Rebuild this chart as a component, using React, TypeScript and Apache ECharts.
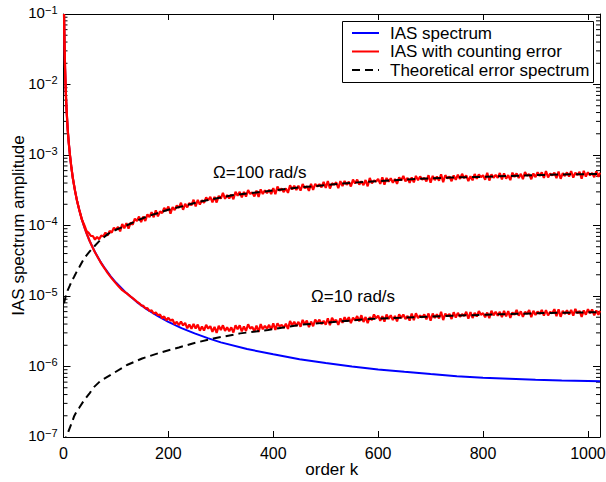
import React, { useEffect, useRef } from 'react';
import * as echarts from 'echarts';

const FONT = '"Liberation Sans", Arial, Helvetica, sans-serif';

// ---- IAS spectrum (blue) ----
const blueK = [1, 2, 3, 4, 5, 6, 8, 10, 12, 15, 18, 22, 26, 30, 35, 40, 45, 50, 60, 70, 80, 90, 100, 120, 140, 160, 180, 200, 225, 250, 275, 300, 350, 400, 450, 500, 550, 600, 650, 700, 750, 800, 850, 900, 950, 1000, 1023];
const blueV = [1.0e-1, 3.7e-2, 1.7e-2, 9.4e-3, 6.0e-3, 4.2e-3, 2.3e-3, 1.5e-3, 1.05e-3, 6.7e-4, 4.6e-4, 3.1e-4, 2.2e-4, 1.67e-4, 1.22e-4, 9.4e-5, 7.4e-5, 6.0e-5, 4.2e-5, 3.1e-5, 2.4e-5, 1.9e-5, 1.55e-5, 1.1e-5, 8.2e-6, 6.4e-6, 5.2e-6, 4.3e-6, 3.5e-6, 2.95e-6, 2.53e-6, 2.2e-6, 1.77e-6, 1.49e-6, 1.27e-6, 1.12e-6, 1.0e-6, 9.1e-7, 8.4e-7, 7.8e-7, 7.3e-7, 6.9e-7, 6.7e-7, 6.5e-7, 6.35e-7, 6.25e-7, 6.2e-7];

// ---- IAS with counting error (red) ----
// set A: k = 40, 48, 56, ... (last one at 1023); set B: k = 44, 52, 60, ... 1020
const redStartA = 40;
const redStartB = 44;
const redStep = 8;
const redOmega100A = [
  1.0e-4, 7.85e-5, 7.1e-5, 6.9e-5, 7.18e-5, 7.95e-5, 8.4e-5, 9.3e-5, 9.55e-5, 1.05e-4,
  1.08e-4, 1.1e-4, 1.25e-4, 1.34e-4, 1.34e-4, 1.44e-4, 1.54e-4, 1.64e-4, 1.58e-4, 1.77e-4,
  1.86e-4, 1.83e-4, 1.93e-4, 2.1e-4, 2.03e-4, 2.08e-4, 2.32e-4, 2.31e-4, 2.28e-4, 2.51e-4,
  2.55e-4, 2.54e-4, 2.63e-4, 2.9e-4, 2.7e-4, 2.74e-4, 3.01e-4, 3.0e-4, 3.0e-4, 3.18e-4,
  2.94e-4, 3.12e-4, 3.25e-4, 3.15e-4, 3.22e-4, 3.4e-4, 3.56e-4, 3.34e-4, 3.36e-4, 3.72e-4,
  3.66e-4, 3.68e-4, 3.87e-4, 3.61e-4, 3.9e-4, 3.88e-4, 3.85e-4, 4.17e-4, 4.26e-4, 3.97e-4,
  4.09e-4, 4.26e-4, 4.28e-4, 4.2e-4, 4.48e-4, 4.48e-4, 4.24e-4, 4.42e-4, 4.72e-4, 4.37e-4,
  4.57e-4, 4.82e-4, 4.73e-4, 4.68e-4, 4.58e-4, 4.83e-4, 5.05e-4, 4.73e-4, 4.8e-4, 5.06e-4,
  4.96e-4, 4.76e-4, 5.17e-4, 5.05e-4, 4.94e-4, 5.33e-4, 5.17e-4, 4.95e-4, 5.13e-4, 5.24e-4,
  5.41e-4, 5.14e-4, 5.01e-4, 5.37e-4, 5.28e-4, 5.15e-4, 5.61e-4, 5.3e-4, 5.22e-4, 5.55e-4,
  5.47e-4, 5.19e-4, 5.62e-4, 5.49e-4, 5.41e-4, 5.73e-4, 5.35e-4, 5.47e-4, 5.7e-4, 5.67e-4,
  5.9e-4, 5.45e-4, 5.63e-4, 5.81e-4, 5.55e-4, 5.67e-4, 5.91e-4, 5.6e-4, 5.78e-4, 5.95e-4,
  5.69e-4, 5.54e-4, 5.87e-4, 5.62e-4,
];
const redOmega100B = [
  8.35e-5, 7.1e-5, 6.3e-5, 6.37e-5, 7.05e-5, 7.2e-5, 7.95e-5, 8.7e-5, 8.25e-5, 9.15e-5,
  9.0e-5, 1.03e-4, 1.16e-4, 1.12e-4, 1.16e-4, 1.32e-4, 1.31e-4, 1.35e-4, 1.5e-4, 1.62e-4,
  1.47e-4, 1.65e-4, 1.78e-4, 1.67e-4, 1.81e-4, 1.93e-4, 1.87e-4, 1.98e-4, 2.1e-4, 2.28e-4,
  2.13e-4, 2.12e-4, 2.41e-4, 2.39e-4, 2.42e-4, 2.36e-4, 2.65e-4, 2.5e-4, 2.57e-4, 2.8e-4,
  2.58e-4, 2.55e-4, 2.8e-4, 2.87e-4, 2.79e-4, 2.78e-4, 3.12e-4, 2.98e-4, 2.9e-4, 3.25e-4,
  3.18e-4, 3.12e-4, 3.37e-4, 3.1e-4, 3.21e-4, 3.58e-4, 3.47e-4, 3.41e-4, 3.34e-4, 3.8e-4,
  3.38e-4, 3.62e-4, 3.78e-4, 3.58e-4, 3.93e-4, 3.81e-4, 3.73e-4, 3.6e-4, 3.97e-4, 4.21e-4,
  3.9e-4, 3.8e-4, 4.18e-4, 4.03e-4, 3.89e-4, 4.36e-4, 4.22e-4, 4.02e-4, 4.09e-4, 4.39e-4,
  4.47e-4, 4.22e-4, 4.06e-4, 4.41e-4, 4.33e-4, 4.12e-4, 4.66e-4, 4.25e-4, 4.46e-4, 4.58e-4,
  4.69e-4, 4.27e-4, 4.38e-4, 4.59e-4, 4.85e-4, 4.47e-4, 4.34e-4, 4.76e-4, 4.74e-4, 4.51e-4,
  4.63e-4, 4.39e-4, 4.87e-4, 4.73e-4, 4.55e-4, 5.08e-4, 4.53e-4, 4.86e-4, 5.03e-4, 4.74e-4,
  4.81e-4, 5.15e-4, 4.69e-4, 4.6e-4, 5.03e-4, 4.94e-4, 4.79e-4, 5.18e-4, 4.61e-4, 4.94e-4,
  5.16e-4, 4.85e-4, 4.91e-4,
];
const redOmega10A = [
  9.4e-5, 6.5e-5, 4.8e-5, 3.7e-5, 2.9e-5, 2.36e-5, 1.95e-5, 1.64e-5, 1.4e-5, 1.21e-5,
  1.1e-5, 9.8e-6, 8.8e-6, 7.95e-6, 7.27e-6, 6.75e-6, 6.26e-6, 5.84e-6, 5.46e-6, 5.13e-6,
  4.91e-6, 4.64e-6, 4.31e-6, 4.34e-6, 4.15e-6, 3.95e-6, 4.01e-6, 3.93e-6, 3.69e-6, 3.89e-6,
  3.74e-6, 3.65e-6, 3.77e-6, 3.84e-6, 3.61e-6, 3.59e-6, 3.84e-6, 3.84e-6, 3.71e-6, 3.97e-6,
  3.64e-6, 3.79e-6, 3.99e-6, 3.78e-6, 3.89e-6, 4.1e-6, 4.11e-6, 3.91e-6, 4.04e-6, 4.42e-6,
  4.32e-6, 4.3e-6, 4.59e-6, 4.47e-6, 4.34e-6, 4.62e-6, 4.62e-6, 4.45e-6, 4.81e-6, 4.92e-6,
  4.58e-6, 4.82e-6, 5.0e-6, 5.0e-6, 4.92e-6, 5.19e-6, 5.34e-6, 5.03e-6, 5.01e-6, 5.48e-6,
  5.27e-6, 5.18e-6, 5.46e-6, 5.34e-6, 5.21e-6, 5.48e-6, 5.46e-6, 5.22e-6, 5.64e-6, 5.68e-6,
  5.3e-6, 5.48e-6, 5.65e-6, 5.64e-6, 5.51e-6, 5.96e-6, 5.63e-6, 5.55e-6, 5.89e-6, 5.77e-6,
  5.52e-6, 5.98e-6, 5.9e-6, 5.77e-6, 6.12e-6, 5.7e-6, 5.83e-6, 6.18e-6, 5.98e-6, 5.95e-6,
  6.14e-6, 6.1e-6, 5.84e-6, 6.37e-6, 6.06e-6, 5.96e-6, 6.33e-6, 6.18e-6, 6.03e-6, 6.34e-6,
  6.3e-6, 5.96e-6, 6.51e-6, 6.46e-6, 6.18e-6, 6.26e-6, 6.33e-6, 6.57e-6, 6.13e-6, 6.25e-6,
  6.5e-6, 6.45e-6, 6.23e-6, 6.18e-6,
];
const redOmega10B = [
  7.75e-5, 5.55e-5, 4.17e-5, 3.26e-5, 2.61e-5, 2.13e-5, 1.78e-5, 1.51e-5, 1.3e-5, 1.15e-5,
  1.04e-5, 9.3e-6, 8.35e-6, 7.38e-6, 6.66e-6, 6.11e-6, 5.62e-6, 5.34e-6, 4.82e-6, 4.52e-6,
  4.46e-6, 3.98e-6, 3.85e-6, 3.83e-6, 3.48e-6, 3.42e-6, 3.46e-6, 3.22e-6, 3.24e-6, 3.45e-6,
  3.11e-6, 2.99e-6, 3.29e-6, 3.19e-6, 3.17e-6, 3.04e-6, 3.37e-6, 3.15e-6, 3.19e-6, 3.45e-6,
  3.15e-6, 3.09e-6, 3.37e-6, 3.44e-6, 3.34e-6, 3.31e-6, 3.69e-6, 3.52e-6, 3.41e-6, 3.84e-6,
  3.75e-6, 3.67e-6, 3.96e-6, 3.61e-6, 3.72e-6, 4.14e-6, 4.0e-6, 3.92e-6, 3.84e-6, 4.38e-6,
  3.89e-6, 4.16e-6, 4.34e-6, 4.11e-6, 4.52e-6, 4.38e-6, 4.28e-6, 4.13e-6, 4.54e-6, 4.82e-6,
  4.45e-6, 4.32e-6, 4.73e-6, 4.55e-6, 4.37e-6, 4.9e-6, 4.71e-6, 4.48e-6, 4.55e-6, 4.88e-6,
  4.96e-6, 4.67e-6, 4.48e-6, 4.87e-6, 4.8e-6, 4.56e-6, 5.17e-6, 4.72e-6, 4.95e-6, 5.08e-6,
  5.21e-6, 4.75e-6, 4.88e-6, 5.12e-6, 5.42e-6, 5.0e-6, 4.85e-6, 5.31e-6, 5.27e-6, 5.01e-6,
  5.14e-6, 4.88e-6, 5.4e-6, 5.25e-6, 5.05e-6, 5.63e-6, 5.02e-6, 5.39e-6, 5.58e-6, 5.25e-6,
  5.32e-6, 5.68e-6, 5.18e-6, 5.07e-6, 5.55e-6, 5.45e-6, 5.28e-6, 5.7e-6, 5.07e-6, 5.43e-6,
  5.68e-6, 5.33e-6, 5.4e-6,
];

// ---- Theoretical error spectrum (dashed) ----
const theoK100 = [1, 4, 8, 12, 16, 20, 25, 30, 39, 50, 58, 70, 85, 100, 120, 134, 160, 198, 230, 261, 300, 324, 388, 451, 540, 600, 674, 740, 800, 870, 928, 1023];
const theoV100 = [7.9e-6, 9.8e-6, 1.2e-5, 1.4e-5, 1.65e-5, 1.86e-5, 2.2e-5, 2.55e-5, 3.4e-5, 4.3e-5, 5.0e-5, 6.2e-5, 7.6e-5, 8.7e-5, 1.0e-4, 1.12e-4, 1.35e-4, 1.66e-4, 1.9e-4, 2.19e-4, 2.5e-4, 2.7e-4, 3.07e-4, 3.47e-4, 3.98e-4, 4.27e-4, 4.57e-4, 4.8e-4, 4.9e-4, 5.1e-4, 5.25e-4, 5.4e-4];
const theoK10 = [1, 5, 8, 12, 16, 20, 25, 30, 39, 50, 58, 70, 90, 121, 150, 185, 220, 248, 286, 337, 390, 451, 520, 578, 642, 740, 832, 930, 1023];
const theoV10 = [7.9e-8, 1.0e-7, 1.12e-7, 1.35e-7, 1.6e-7, 1.95e-7, 2.3e-7, 2.6e-7, 3.3e-7, 4.2e-7, 5.1e-7, 6.2e-7, 7.6e-7, 1.05e-6, 1.3e-6, 1.58e-6, 1.86e-6, 2.14e-6, 2.5e-6, 2.95e-6, 3.3e-6, 3.9e-6, 4.3e-6, 4.7e-6, 4.9e-6, 5.25e-6, 5.5e-6, 5.75e-6, 5.9e-6];

const xTicks = [0, 200, 400, 600, 800, 1000];
const xMax = 1023;
const yMin = 1e-7;
const yMax = 1e-1;
const legendNames = ['IAS spectrum', 'IAS with counting error', 'Theoretical error spectrum'];
const annotations = [
  { text: 'Ω=100 rad/s', x: 213, y: 172 },
  { text: 'Ω=10 rad/s', x: 311, y: 296 },
];

const BLUE = '#0000ff';
const RED = '#ff0000';
const DASH = [8, 5];

function pairs(ks: number[], vs: number[]) {
  return vs.map((v, i) => [ks[i], v]);
}
function redSeries(a: number[], b: number[]) {
  const head = blueK.map((k, i) => [k, blueV[i]]).filter((p) => p[0] < redStartA);
  const pa = a.map((v, i) => [Math.min(redStartA + redStep * i, xMax), v]);
  const pb = b.map((v, i) => [Math.min(redStartB + redStep * i, xMax), v]);
  return head.concat(pa, pb).sort((p, q) => p[0] - q[0]);
}

const minorVals: number[] = [];
for (let e = -7; e <= -2; e++) {
  for (let m = 2; m <= 9; m++) minorVals.push(m * Math.pow(10, e));
}

function legendGraphic() {
  const x0 = 342.5, y0 = 21.5, w = 251, h = 61;
  const rows = [33, 51.5, 70];
  const colors = [BLUE, RED, '#000'];
  const children: any[] = [
    { type: 'rect', shape: { x: x0, y: y0, width: w, height: h }, style: { fill: '#fff', stroke: '#000', lineWidth: 1 } },
  ];
  legendNames.forEach((name, i) => {
    children.push({
      type: 'line',
      shape: { x1: 352, y1: rows[i], x2: 379, y2: rows[i] },
      style: { stroke: colors[i], lineWidth: 2, lineDash: i === 2 ? DASH : null },
    });
    children.push({
      type: 'text', x: 390, y: rows[i],
      style: { text: name, fill: '#000', font: '17px ' + FONT, verticalAlign: 'middle', align: 'left' },
    });
  });
  return { type: 'group', z: 100, children };
}

export default function App() {
  const ref = useRef<HTMLDivElement>(null);
  useEffect(() => {
    const chart = echarts.init(ref.current!, null, { renderer: 'svg' });
    const axisLine = { show: true, onZero: false, lineStyle: { color: '#000', width: 1 } };
    const option: any = {
      animation: false,
      backgroundColor: '#fff',
      textStyle: { fontFamily: FONT },
      grid: { left: 63.5, right: 6, top: 14, bottom: 45, containLabel: false, outerBoundsMode: 'none' },
      xAxis: [
        {
          type: 'value', min: 0, max: xMax, interval: 200, position: 'bottom',
          axisLine,
          axisTick: { show: true, inside: true, length: 6, lineStyle: { color: '#000' } },
          axisLabel: {
            color: '#000', fontSize: 16, fontFamily: FONT, margin: 8,
            formatter: (v: number) => (xTicks.indexOf(v) >= 0 ? String(v) : ''),
          },
          splitLine: { show: false },
          name: 'order k', nameLocation: 'middle', nameGap: 23, nameMoveOverlap: false,
          nameTextStyle: { color: '#000', fontSize: 17, fontFamily: FONT, lineHeight: 18 },
        },
        {
          type: 'value', min: 0, max: xMax, interval: 200, position: 'top',
          axisLine,
          axisTick: { show: true, inside: true, length: 6, lineStyle: { color: '#000' } },
          axisLabel: { show: false },
          splitLine: { show: false },
        },
      ],
      yAxis: [
        {
          type: 'log', logBase: 10, min: yMin, max: yMax, position: 'left',
          axisLine,
          axisTick: { show: true, inside: true, length: 7, lineStyle: { color: '#000' } },
          axisLabel: {
            color: '#000', margin: 6, padding: [0, 0, 4, 0],
            formatter: (v: number) => {
              const e = Math.round(Math.log10(v));
              return '{b|10}{s|' + (e < 0 ? '−' : '') + Math.abs(e) + '}';
            },
            rich: {
              b: { fontSize: 15, fontFamily: FONT, color: '#000', lineHeight: 16, verticalAlign: 'bottom' },
              s: { fontSize: 11, fontFamily: FONT, color: '#000', lineHeight: 12, padding: [0, 0, 8, 0], verticalAlign: 'top' },
            },
          },
          splitLine: { show: false },
          name: 'IAS spectrum amplitude', nameLocation: 'middle', nameGap: 37, nameMoveOverlap: false,
          nameTextStyle: { color: '#000', fontSize: 17, fontFamily: FONT },
        },
        {
          type: 'log', logBase: 10, min: yMin, max: yMax, position: 'right',
          axisLine,
          axisTick: { show: true, inside: true, length: 7, lineStyle: { color: '#000' } },
          axisLabel: { show: false },
          splitLine: { show: false },
        },
      ],
      graphic: [
        ...annotations.map((a) => ({
          type: 'text', x: a.x, y: a.y, z: 100,
          style: { text: a.text, fill: '#000', font: '17px ' + FONT, verticalAlign: 'middle', align: 'left' },
        })),
        legendGraphic(),
      ],
      series: [
        {
          name: 'minor ticks', type: 'custom', silent: true, clip: false,
          data: minorVals.map((v) => [0, v]),
          encode: { x: 0, y: 1 },
          renderItem: (params: any, api: any) => {
            const p = api.coord([0, api.value(1)]);
            const cs = params.coordSys;
            return {
              type: 'group',
              children: [
                { type: 'line', shape: { x1: cs.x, y1: p[1], x2: cs.x + 4, y2: p[1] }, style: { stroke: '#000', lineWidth: 1 } },
                { type: 'line', shape: { x1: cs.x + cs.width, y1: p[1], x2: cs.x + cs.width - 4, y2: p[1] }, style: { stroke: '#000', lineWidth: 1 } },
              ],
            };
          },
        },
        {
          name: legendNames[0], type: 'line', symbol: 'none', data: pairs(blueK, blueV),
          lineStyle: { color: BLUE, width: 2 }, itemStyle: { color: BLUE }, z: 3,
        },
        {
          name: legendNames[1], type: 'line', symbol: 'none', data: redSeries(redOmega100A, redOmega100B),
          lineStyle: { color: RED, width: 2.2 }, itemStyle: { color: RED }, z: 4,
        },
        {
          name: legendNames[1], type: 'line', symbol: 'none', data: redSeries(redOmega10A, redOmega10B),
          lineStyle: { color: RED, width: 2.2 }, itemStyle: { color: RED }, z: 4,
        },
        {
          name: legendNames[2], type: 'line', symbol: 'none', data: pairs(theoK100, theoV100),
          lineStyle: { color: '#000', width: 2, type: DASH }, itemStyle: { color: '#000' }, z: 5,
        },
        {
          name: legendNames[2], type: 'line', symbol: 'none', data: pairs(theoK10, theoV10),
          lineStyle: { color: '#000', width: 2, type: DASH }, itemStyle: { color: '#000' }, z: 5,
        },
      ],
    };
    chart.setOption(option);
    return () => chart.dispose();
  }, []);
  return <div ref={ref} style={{ position: 'fixed', left: 0, top: 0, width: 606, height: 482 }} />;
}
